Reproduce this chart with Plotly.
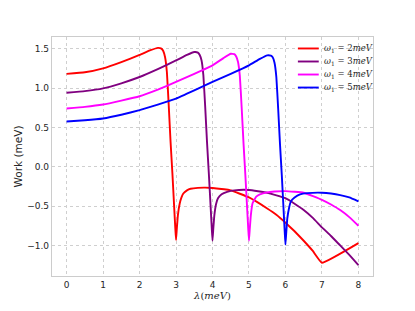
import plotly.graph_objects as go

# ---- data ----
lam_w2 = [0.0, 0.5, 1.0, 1.5, 2.0, 2.3, 2.5, 2.6, 2.65, 2.7, 2.75, 2.8, 2.85, 2.9, 2.95, 2.98, 3.0,
          3.02, 3.05, 3.1, 3.15, 3.2, 3.3, 3.4, 3.6, 3.8, 4.0, 4.5, 5.0, 5.5, 5.75, 6.0, 6.25, 6.5, 6.75, 7.0, 8.0]
work_w2 = [1.18, 1.20, 1.25, 1.33, 1.42, 1.48, 1.51, 1.50, 1.47, 1.39, 1.20, 0.78, 0.32, -0.08, -0.52, -0.78, -0.93,
           -0.80, -0.62, -0.47, -0.39, -0.34, -0.30, -0.28, -0.268, -0.265, -0.27, -0.30, -0.39, -0.53, -0.61, -0.71, -0.82, -0.94, -1.07, -1.22, -0.97]

lam_w3 = [0.0, 0.5, 1.0, 1.5, 2.0, 2.5, 3.0, 3.3, 3.5, 3.6, 3.65, 3.7, 3.75, 3.8, 3.85, 3.9, 3.95, 3.98, 4.0,
          4.02, 4.05, 4.1, 4.15, 4.25, 4.4, 4.6, 5.0, 5.5, 6.0, 6.25, 6.5, 6.75, 7.0, 7.25, 7.5, 7.75, 8.0]
work_w3 = [0.94, 0.96, 0.995, 1.06, 1.14, 1.24, 1.35, 1.42, 1.457, 1.45, 1.42, 1.35, 1.16, 0.76, 0.31, -0.09, -0.52, -0.78, -0.94,
           -0.80, -0.62, -0.47, -0.40, -0.35, -0.32, -0.30, -0.295, -0.33, -0.40, -0.47, -0.55, -0.65, -0.77, -0.88, -1.00, -1.12, -1.25]

lam_w4 = [0.0, 0.5, 1.0, 1.5, 2.0, 2.5, 3.0, 3.5, 4.0, 4.3, 4.5, 4.6, 4.65, 4.7, 4.75, 4.8, 4.85, 4.9, 4.95, 4.98, 5.0,
          5.02, 5.05, 5.1, 5.2, 5.3, 5.5, 5.7, 6.0, 6.5, 7.0, 7.25, 7.5, 7.75, 8.0]
work_w4 = [0.74, 0.76, 0.79, 0.84, 0.895, 0.98, 1.077, 1.18, 1.288, 1.38, 1.435, 1.43, 1.40, 1.33, 1.15, 0.75, 0.30, -0.10, -0.53, -0.79, -0.94,
           -0.80, -0.62, -0.46, -0.38, -0.35, -0.325, -0.315, -0.31, -0.33, -0.42, -0.48, -0.55, -0.64, -0.75]

lam_w5 = [0.0, 0.5, 1.0, 1.5, 2.0, 2.5, 3.0, 3.5, 4.0, 4.5, 5.0, 5.3, 5.5, 5.6, 5.65, 5.7, 5.75, 5.8, 5.85, 5.9, 5.95, 5.98, 6.0,
          6.02, 6.05, 6.1, 6.15, 6.25, 6.4, 6.6, 7.0, 7.25, 7.5, 7.75, 8.0]
work_w5 = [0.575, 0.59, 0.613, 0.66, 0.718, 0.79, 0.866, 0.97, 1.077, 1.18, 1.288, 1.37, 1.415, 1.41, 1.39, 1.32, 1.14, 0.74, 0.29, -0.11, -0.56, -0.83, -0.99,
           -0.85, -0.66, -0.52, -0.44, -0.39, -0.35, -0.335, -0.33, -0.34, -0.36, -0.39, -0.44]

series_labels = ["<i>ω</i><sub>1</sub> = 2<i>meV</i>", "<i>ω</i><sub>1</sub> = 3<i>meV</i>",
                 "<i>ω</i><sub>1</sub> = 4<i>meV</i>", "<i>ω</i><sub>1</sub> = 5<i>meV</i>"]
series_colors = ["#ff0000", "#800080", "#ff00ff", "#0000ff"]
x_ticks = [0, 1, 2, 3, 4, 5, 6, 7, 8]
y_ticks = [-1.0, -0.5, 0.0, 0.5, 1.0, 1.5]

xs = [lam_w2, lam_w3, lam_w4, lam_w5]
ys = [work_w2, work_w3, work_w4, work_w5]

fig = go.Figure()
for x, y, name, c in zip(xs, ys, series_labels, series_colors):
    fig.add_trace(go.Scatter(x=x, y=y, mode="lines", name=name, showlegend=False,
                             line=dict(color=c, width=1.9, shape="spline", smoothing=0.3)))

# compact legend (matplotlib-like spacing), drawn in paper coordinates
leg_x0, leg_x1, leg_tx = 0.766, 0.831, 0.842
leg_y0, leg_dy = 0.952, 0.0545
for i, (name, c) in enumerate(zip(series_labels, series_colors)):
    yy = leg_y0 - i * leg_dy
    fig.add_shape(type="line", xref="paper", yref="paper", x0=leg_x0, x1=leg_x1, y0=yy, y1=yy,
                  line=dict(color=c, width=1.9))
    fig.add_annotation(xref="paper", yref="paper", x=leg_tx, y=yy, xanchor="left", yanchor="middle",
                       text=name, showarrow=False,
                       font=dict(family="DejaVu Serif", size=8.5, color="#262626"))

axis_common = dict(
    showgrid=True, gridcolor="#cfcfcf", griddash="dot", gridwidth=1,
    zeroline=False, showline=True, linecolor="#cccccc", linewidth=1.2, mirror=True,
    ticks="", automargin=False,
    tickfont=dict(family="DejaVu Sans", size=9, color="#262626"),
)

fig.update_layout(
    width=415, height=311,
    margin=dict(l=44, r=50, t=29, b=43, autoexpand=False),
    paper_bgcolor="white", plot_bgcolor="white",
    showlegend=False,
    xaxis=dict(range=[-0.4, 8.4], tickvals=x_ticks,
               title=dict(text="<i>λ</i>(<i>meV</i>)", standoff=3,
                          font=dict(family="DejaVu Serif", size=10, color="#262626")),
               **axis_common),
    yaxis=dict(range=[-1.388, 1.648], tickvals=y_ticks, tickformat=".1f",
               title=dict(text="Work (meV)", standoff=2,
                          font=dict(family="DejaVu Sans", size=10.5, color="#262626")),
               **axis_common),
)

fig.write_html("out.html")
